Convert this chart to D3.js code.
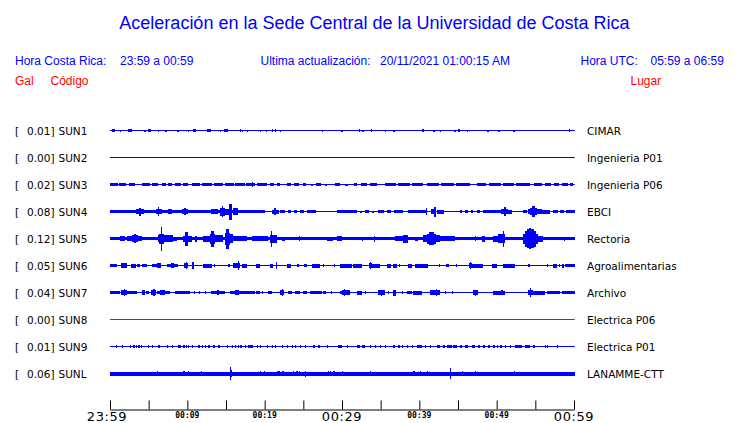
<!DOCTYPE html>
<html><head><meta charset="utf-8">
<script src="https://cdn.jsdelivr.net/npm/d3@7"></script>
<style>body{margin:0;background:#fff}svg{display:block}</style>
</head><body><svg id="c" width="740" height="423"></svg>
<script>
// ---------- data ----------
const title = "Aceleración en la Sede Central de la Universidad de Costa Rica";
const localRange = "23:59 a 00:59";
const utcRange = "05:59 a 06:59";
const updated = "20/11/2021 01:00:15 AM";
const codes = ["SUN1","SUN2","SUN3","SUN4","SUN5","SUN6","SUN7","SUN8","SUN9","SUNL"];
const peaks = ["0.01","0.00","0.02","0.08","0.12","0.05","0.04","0.00","0.01","0.06"];
const places = ["CIMAR","Ingenieria P01","Ingenieria P06","EBCI","Rectoria","Agroalimentarias","Archivo","Electrica P06","Electrica P01","LANAMME-CTT"];
const traceColors = ["blue","blue","blue","blue","blue","blue","blue","red","blue","blue"];
const tickMinutes = [0,5,10,15,20,25,30,35,40,45,50,55,60];
const tickLabels = ["23:59","","00:09","","00:19","","00:29","","00:39","","00:49","","00:59"];
const majorTicks = ["23:59","00:29","00:59"];
const traceEnd = 60.1;
// envelope segments [start minute, end minute, half amplitude]
const sun1 = [[0.3,0.6,1.5],[1.29,1.29,1],[2.3,2.8,1.5],[4.44,4.44,1],[4.9,5.3,1.7],[6.17,6.17,1],[7.16,7.16,1],[8.71,8.71,1],[10.12,10.12,1],[10.7,11.1,1.5],[12.6,13.0,1.5],[14.22,14.22,1],[14.8,15.3,1.5],[16.81,16.81,1.2],[17.03,17.03,1],[17.68,17.68,1],[19.4,19.4,1],[20.13,20.13,1],[20.91,20.91,1.2],[21.34,21.34,1.2],[21.98,21.98,1],[27.45,27.45,1],[29.91,29.91,1],[32.2,32.2,1.2],[32.63,32.63,1],[33.72,33.88,1.2],[35.5,35.5,1],[36.64,36.64,1],[40.39,40.39,1.2],[41.82,41.82,1],[42.67,42.67,1],[44.53,44.53,1],[45.05,45.05,1.2],[46.13,46.13,1],[48.8,48.8,1],[50.22,50.22,1],[52.16,52.16,1],[59.39,59.39,1.2]];
const sun2 = [];
const sun3 = [[0,1.0,1.3],[1.2,2.1,1.4],[2.4,3.2,1.2],[4.1,5.2,1.4],[5.4,6.2,1.4],[6.7,7.2,1.2],[7.5,8.0,1.2],[8.4,9.2,1.3],[9.5,10.1,1.2],[10.6,11.6,1.3],[11.9,13.2,1.4],[13.5,14.6,1.3],[14.9,16.0,1.4],[16.2,17.4,1.4],[17.6,18.8,1.4],[19.0,20.3,1.3],[18.32,18.32,2.2],[20.7,21.2,1.1],[21.6,22.0,1.1],[22.9,23.4,1.1],[23.8,24.5,1.2],[25.0,25.4,1.1],[26.0,26.3,1.0],[26.7,27.3,1.1],[27.8,28.1,1.0],[29.1,29.7,1.1],[30.4,30.8,1.0],[31.5,32.0,1.1],[32.4,33.2,1.2],[33.6,34.5,1.1],[35.6,37.0,1.3],[37.3,38.8,1.3],[39.1,40.5,1.2],[41.0,42.5,1.3],[42.8,44.5,1.3],[44.8,46.5,1.2],[47.4,48.6,1.3],[49.0,50.5,1.2],[50.8,52.2,1.3],[52.5,54.3,1.2],[54.8,55.8,1.2],[56.2,57.0,1.1],[57.4,58.0,1.1],[58.5,59.2,1.2],[59.5,59.9,1.3]];
const sun4 = [[0,20,1.3],[3.4,4.4,2.2],[3.75,3.95,4],[5.9,6.7,2.2],[6.15,6.35,4.2],[7.5,8.0,2.2],[9.3,10.1,2.2],[9.6,9.8,3.2],[13.0,14.0,2.6],[14.2,14.9,4],[14.45,14.6,5.5],[14.9,15.8,3],[15.45,15.8,8],[15.9,16.6,3.5],[16.6,20.0,1.6],[21.0,21.8,2],[21.25,21.45,3.2],[22.0,22.6,1.5],[23.0,23.4,1.3],[23.8,24.2,1.3],[24.6,25.1,1.3],[25.5,26.7,1.3],[29.3,31.9,1.3],[32.3,32.6,1],[33.0,33.5,1.3],[33.9,34.2,1],[34.6,35.4,1.3],[35.8,36.3,1.3],[36.7,37.9,1.3],[38.5,41.0,1.5],[40.85,41.05,3.3],[41.5,42.1,2.5],[41.95,42.2,5],[42.3,43.2,2],[45.3,45.5,1.2],[45.9,46.3,1.3],[46.7,47.0,1.2],[47.4,47.9,1.3],[48.2,50.8,1.5],[50.6,51.5,2.3],[50.95,51.15,4.2],[51.5,52.0,2],[53.4,53.9,1.3],[54.0,55.8,2.3],[54.3,55.2,3.8],[54.55,54.95,5.5],[55.3,56.9,2],[57.3,57.9,1.3],[58.2,58.7,1.2],[59.0,60.1,1.5]];
const sun5 = [[0,60.1,1.7],[1.3,1.9,2.5],[2.2,2.8,2.5],[2.8,3.6,3.5],[3.1,3.3,4.8],[3.6,4.1,2.5],[6.2,8.1,3.2],[6.4,7.0,5],[6.55,6.75,12],[8.1,8.6,2],[9.4,10.6,3],[9.75,10.1,7],[11.0,11.3,3],[12.0,12.9,3],[12.9,13.6,5],[13.1,13.4,8],[13.6,14.6,3.5],[14.9,15.5,6],[15.05,15.35,10],[15.5,15.9,4.5],[15.9,17.7,2.5],[18.4,20.4,2.5],[20.7,21.6,4],[20.85,21.0,8],[22.2,22.6,2],[24.4,24.5,2.5],[28.1,28.8,2],[29.3,30.0,2.5],[32.6,32.7,2],[34.1,34.2,3],[36.9,38.4,2.8],[37.9,38.5,4],[39.4,39.8,2],[40.5,42.7,3.5],[41.0,42.2,5],[41.3,41.9,6.5],[42.7,44.6,2.5],[47.2,47.3,2.5],[48.1,48.5,3],[49.5,50.2,3],[50.2,51.1,4.5],[50.8,50.9,8],[53.4,55.3,5],[53.6,55.1,8],[53.9,54.8,9.5],[54.2,54.5,10.5],[55.3,56.0,3],[58.7,58.8,2]];
const sun6 = [[0,0.9,1.5],[1.4,2.2,2.2],[1.7,1.9,2.8],[2.7,3.4,2],[3.5,3.9,1.5],[4.1,4.8,1.5],[5.4,6.1,1.5],[6.1,6.6,2.5],[7.4,8.8,1.8],[7.9,8.3,2.5],[9.6,10.1,2.5],[9.8,9.9,3.5],[10.6,10.9,3.5],[12.0,13.2,2],[13.4,13.5,1.2],[15.3,15.4,1.5],[15.9,16.8,2.5],[16.5,16.6,4.5],[17.1,17.7,2],[18.9,19.4,2],[20.7,21.1,2],[21.5,21.6,3.5],[22.9,23.4,2],[24.2,24.4,1.5],[25.1,25.5,1.5],[26.1,27.2,2],[27.5,27.6,1.2],[29.0,29.1,1.2],[29.7,31.3,2],[31.4,32.6,2],[33.5,33.9,2.5],[33.65,33.75,3.5],[33.9,34.9,2],[35.8,36.3,2],[36.6,37.1,2],[37.4,37.5,1.2],[38.5,39.1,2],[39.4,41.1,2],[42.5,42.6,1.2],[43.5,43.9,1.2],[44.7,44.8,1.2],[46.4,46.8,2.5],[46.55,46.65,3.8],[46.8,48.2,2],[49.4,50.0,2],[50.8,52.4,2],[54.1,54.2,1.2],[56.5,56.6,1.5],[57.3,57.8,2],[58.0,58.1,1.5],[58.5,58.6,2],[58.8,60.1,1.5]];
const sun7 = [[0,1.3,1.8],[1.4,2.2,2.5],[1.8,1.9,3.7],[2.2,3.5,1.8],[4.1,4.5,2.5],[4.7,5.1,1.5],[5.3,5.9,2.5],[5.6,5.7,3.2],[6.1,6.5,1.5],[6.5,7.1,2.5],[7.1,7.8,1.8],[8.4,10.3,1.8],[10.8,10.9,1.2],[11.5,11.6,1.5],[12.3,12.4,1.2],[13.1,14.9,1.8],[13.8,14.1,2.5],[15.5,18.8,1.8],[16.2,16.7,2.5],[18.9,19.4,1.2],[19.6,19.7,1.2],[20.4,20.9,1.8],[22.0,22.5,2.5],[22.2,22.3,3.2],[23.0,23.5,1.8],[23.9,24.6,1.8],[25.0,25.5,1.8],[25.9,27.4,1.8],[27.5,27.9,1.8],[28.6,28.7,1.2],[29.7,30.6,1.8],[30.0,31.0,2.5],[30.2,30.3,3.2],[31.9,32.6,2],[33.0,33.1,1.2],[34.7,35.6,2.5],[35.0,35.2,3],[35.9,36.0,1.2],[36.6,37.0,3],[37.7,37.8,1.2],[38.4,39.1,1.5],[39.2,40.3,2],[41.4,42.7,2.5],[42.1,42.2,3.5],[43.3,43.4,1.2],[44.2,44.3,1.2],[46.9,47.6,2.5],[47.2,47.3,3],[49.5,51.1,2],[50.5,50.8,2.5],[54.1,54.7,2.5],[54.3,54.4,4.2],[54.7,56.3,2],[56.5,58.2,1.8],[58.5,60.1,1.8]];
const sun8 = [];
const sun9 = [[0.78,0.78,1.3],[1.51,1.51,1.3],[2.59,2.59,1.3],[3.02,3.02,1.3],[3.36,3.36,1.3],[3.66,3.66,1.3],[4.01,4.01,1.3],[4.88,4.88,1.3],[5.39,5.39,1.3],[6.25,6.25,1.3],[7.33,7.33,1.3],[7.98,7.98,1.3],[8.84,8.84,1.3],[9.05,9.05,1.3],[9.48,9.48,1.3],[9.83,9.83,1.3],[10.12,10.12,1.3],[10.56,10.78,1.2],[11.42,11.42,1.3],[11.86,11.86,1.3],[12.29,12.29,1.3],[12.72,12.72,1.3],[13.36,13.58,1.2],[14.01,14.01,1.3],[15.09,15.3,1.2],[15.73,15.73,1.3],[16.16,16.16,1.3],[16.59,16.59,1.3],[16.81,17.03,1.2],[17.46,17.46,1.3],[17.89,18.53,1.2],[18.97,18.97,1.3],[19.4,19.4,1.3],[20.26,20.26,1.3],[20.91,20.91,1.3],[21.34,21.34,1.3],[22.2,22.2,1.3],[22.85,23.06,1.2],[23.49,23.49,1.3],[23.92,23.92,1.3],[24.57,24.57,1.3],[25.22,25.22,1.3],[26.29,26.29,1.3],[26.94,26.94,1.3],[28.02,28.02,1.3],[29.53,29.53,1.3],[29.74,29.96,1.2],[30.61,30.61,1.3],[31.9,31.9,1.3],[32.12,32.12,1.3],[32.55,32.55,1.3],[32.76,32.98,1.2],[33.62,33.62,1.3],[34.27,34.27,1.3],[34.92,34.92,1.3],[35.56,35.56,1.3],[36.64,36.64,1.3],[37.29,37.29,1.3],[37.72,37.72,1.3],[38.37,38.37,1.3],[39.01,39.01,1.3],[39.66,40.31,1.2],[40.74,40.74,1.3],[41.38,41.38,1.3],[42.24,42.67,1.2],[43.1,43.1,1.3],[43.54,44.18,1.2],[44.4,44.83,1.2],[45.26,45.48,1.2],[45.91,46.34,1.2],[46.77,47.2,1.2],[47.64,47.64,1.3],[48.28,48.28,1.3],[48.93,48.93,1.3],[49.57,49.57,1.3],[50.0,50.0,1.3],[50.43,50.65,1.2],[51.08,51.08,1.3],[51.73,51.73,1.3],[52.37,53.24,1.1],[53.67,54.31,1.1],[54.74,54.74,1.3],[56.25,56.25,1.3],[56.47,56.47,1.3],[57.77,57.77,1.3]];
const sunL = [[0,60.1,2],[6.1,6.1,2.3],[9.5,9.5,2.6],[10.1,10.1,2.3],[11.8,11.8,2.2],[15.5,15.5,6.5],[15.6,15.7,3.5],[19.4,19.4,2.6],[19.95,19.95,2.3],[21.55,21.55,2.3],[21.77,21.77,2.3],[22.3,22.3,2.3],[23.7,23.7,2.3],[24.1,24.1,2.3],[24.4,24.4,2.6],[25.2,25.2,3],[28.2,28.2,2.3],[28.45,28.45,2.3],[28.9,28.9,2.6],[30.0,30.0,2.3],[33.6,33.6,2.6],[39.2,39.4,2.5],[40.1,40.1,2.3],[41.0,41.0,2.3],[44.0,44.0,5.5],[45.5,45.5,2.3],[47.2,47.2,2.5],[52.2,52.2,2.5]];
const traces = [sun1,sun2,sun3,sun4,sun5,sun6,sun7,sun8,sun9,sunL];

// ---------- drawing ----------
const svg = d3.select("#c");
const W = 740, H = 423;
svg.append("rect").attr("width", W).attr("height", H).attr("fill", "#fff");

const hdrFont = "'Liberation Sans', Arial, sans-serif";
const lblFont = "'DejaVu Sans', sans-serif";

svg.append("text").attr("x", 374.5).attr("y", 29).attr("text-anchor", "middle")
  .style("font-family", hdrFont).style("font-size", "18px").attr("fill", "blue").text(title);

const row2 = [
  ["Hora Costa Rica:", 15], [localRange, 120], ["Ultima actualización:", 260.5],
  [updated, 380], ["Hora UTC:", 580.5], [utcRange, 650.5]
];
svg.selectAll("text.r2").data(row2).join("text").attr("class", "r2")
  .attr("x", d => d[1]).attr("y", 64.5)
  .style("font-family", hdrFont).style("font-size", "12px").attr("fill", "blue").text(d => d[0]);

const row3 = [["Gal", 15], ["Código", 50.5], ["Lugar", 630.5]];
svg.selectAll("text.r3").data(row3).join("text").attr("class", "r3")
  .attr("x", d => d[1]).attr("y", 84.5)
  .style("font-family", hdrFont).style("font-size", "12px").attr("fill", "red").text(d => d[0]);

const x = d3.scaleLinear().domain([0, 60]).range([110, 574]);
const row = d3.scalePoint().domain(codes).range([130.5, 373.5]);
const amp = d3.scaleLinear().domain([0, 13.5]).range([0, 13.5]);

const g = svg.append("g");
const lbl = (sel) => sel.style("font-family", lblFont).style("font-size", "10.5px").attr("fill", "#000");
codes.forEach((c, i) => {
  const cy = row(c);
  const col = traceColors[i];
  const tg = g.append("g");
  tg.append("line").attr("x1", x(0)).attr("x2", x(traceEnd)).attr("y1", cy).attr("y2", cy)
    .attr("stroke", col).attr("stroke-width", 1.2);
  tg.selectAll("rect").data(traces[i]).join("rect")
    .attr("x", d => x(d[0]))
    .attr("width", d => Math.max(x(d[1]) - x(d[0]), 1.2))
    .attr("y", d => cy - amp(d[2]))
    .attr("height", d => 2 * amp(d[2]))
    .attr("fill", col)
    .attr("shape-rendering", "crispEdges");

  g.append("text").attr("x", 15).attr("y", cy + 4).call(lbl).text("[");
  g.append("text").attr("x", 27).attr("y", cy + 4).call(lbl).text(peaks[i] + "]");
  g.append("text").attr("x", 58.5).attr("y", cy + 4).call(lbl).text(c);
  g.append("text").attr("x", 587).attr("y", cy + 4).call(lbl).text(places[i]);
});

// time axis
const axisG = svg.append("g").attr("transform", "translate(0,409.5)")
  .call(d3.axisTop(x).tickValues(tickMinutes).tickSize(9).tickSizeOuter(0).tickFormat(""));
axisG.select(".domain").attr("stroke", "#000").attr("stroke-width", 1);
axisG.selectAll(".tick line").attr("stroke", "#000").attr("stroke-width", 1);

svg.selectAll("text.tl").data(tickMinutes.map((m, i) => [m, tickLabels[i]]).filter(d => d[1]))
  .join("text").attr("class", "tl")
  .attr("x", d => x(d[0]) - (d[0] === 0 ? 3 : 0)).attr("y", d => majorTicks.includes(d[1]) ? 420.5 : 418)
  .attr("text-anchor", "middle")
  .style("font-family", d => majorTicks.includes(d[1]) ? lblFont : "'DejaVu Sans Mono', monospace")
  .style("font-size", d => majorTicks.includes(d[1]) ? "13px" : "8px")
  .style("font-weight", d => majorTicks.includes(d[1]) ? "normal" : "bold")
  .style("letter-spacing", d => majorTicks.includes(d[1]) ? "0.6px" : "0px")
  .attr("fill", "#000").text(d => d[1]);
</script></body></html>
